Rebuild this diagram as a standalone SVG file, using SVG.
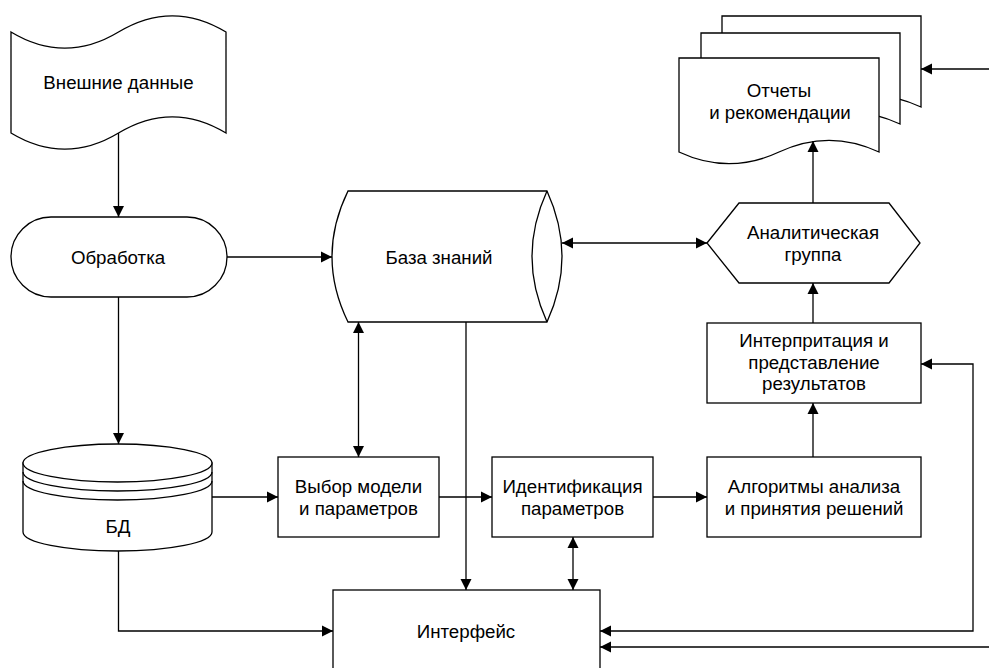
<svg xmlns="http://www.w3.org/2000/svg" width="989" height="668" viewBox="0 0 989 668">
<style>
.s{fill:#fff;stroke:#000;stroke-width:1.3}
.l{fill:none;stroke:#000;stroke-width:1.3}
.c{fill:none;stroke:#000;stroke-width:1.3;marker-end:url(#ah)}
.b{fill:none;stroke:#000;stroke-width:1.3;marker-start:url(#ah);marker-end:url(#ah)}
text{font-family:"Liberation Sans",Arial,sans-serif;font-size:18.7px;fill:#000;text-anchor:middle}
</style>
<defs>
<marker id="ah" viewBox="0 0 12 12" refX="11" refY="6" markerWidth="12" markerHeight="12" markerUnits="userSpaceOnUse" orient="auto-start-reverse">
<path d="M0,0.5 L11,6 L0,11.5 Z" fill="#000"/>
</marker>
</defs>
<rect width="989" height="668" fill="#fff"/>
<g id="ext-data">
<path class="s" d="M11,32 Q64.75,64.4 118.5,32 Q172.25,-0.4 226,32 L226,133 Q172.25,100.6 118.5,133 Q64.75,165.4 11,133 Z"/>
<text x="118.5" y="88.5">Внешние данные</text>
</g>
<g id="processing">
<rect class="s" x="11" y="217" width="216" height="80" rx="40" ry="40"/>
<text x="118" y="263.5">Обработка</text>
</g>
<g id="knowledge-base">
<path class="s" d="M348,191 H547 Q577,256.5 547,322 H348 Q316,256.5 348,191 Z"/>
<path class="l" d="M547,191 Q517,256.5 547,322"/>
<text x="439" y="263.5">База знаний</text>
</g>
<g id="reports">
<path class="s" d="M722,16 H921 V107 Q871,83.6 821.5,107 Q771.5,130.4 722,107 Z"/>
<path class="s" d="M701,33 H900 V124 Q850,100.6 800.5,124 Q750.5,147.4 701,124 Z"/>
<path class="s" d="M679,58 H879 V152 Q829,128.6 779,152 Q729,175.4 679,152 Z"/>
<text x="779" y="97">Отчеты</text>
<text x="780" y="118.5">и рекомендации</text>
</g>
<g id="analytic-group">
<polygon class="s" points="707,243 739,203 889,203 920,243 889,283 739,283"/>
<text x="813" y="239">Аналитическая</text>
<text x="813" y="260.5">группа</text>
</g>
<g id="interpretation">
<rect class="s" x="707" y="323" width="214" height="80"/>
<text x="814" y="347">Интерпритация и</text>
<text x="814" y="368.5">представление</text>
<text x="814" y="390">результатов</text>
</g>
<g id="db">
<path class="s" d="M23,463 V532 A94.5,19 0 0 0 212,532 V463 Z"/>
<ellipse class="s" cx="117.5" cy="463" rx="94.5" ry="19"/>
<path class="l" d="M23,472 A94.5,19 0 0 0 212,472"/>
<path class="l" d="M23,481 A94.5,19 0 0 0 212,481"/>
<text x="118" y="533">БД</text>
</g>
<g id="model-select">
<rect class="s" x="278" y="457" width="161" height="80"/>
<text x="358.5" y="493">Выбор модели</text>
<text x="358.5" y="514.5">и параметров</text>
</g>
<g id="identification">
<rect class="s" x="492" y="457" width="161" height="80"/>
<text x="572.5" y="493">Идентификация</text>
<text x="572.5" y="514.5">параметров</text>
</g>
<g id="algorithms">
<rect class="s" x="707" y="457" width="214" height="80"/>
<text x="814" y="493">Алгоритмы анализа</text>
<text x="814" y="514.5">и принятия решений</text>
</g>
<g id="interface">
<rect class="s" x="333" y="590" width="267" height="100"/>
<text x="466" y="638">Интерфейс</text>
</g>
<g id="connectors">
<path class="c" d="M118.5,133 V217"/>
<path class="c" d="M118.5,297 V444"/>
<path class="c" d="M227,257 H332"/>
<path class="b" d="M358.5,322 V457"/>
<path class="c" d="M466,322 V590"/>
<path class="c" d="M212,497 H278"/>
<path class="c" d="M439,497 H492"/>
<path class="c" d="M653,497 H707"/>
<path class="b" d="M573,537 V590"/>
<path class="c" d="M813,457 V403"/>
<path class="c" d="M813,323 V283"/>
<path class="c" d="M813,203 V141"/>
<path class="b" d="M562,243 H707"/>
<path class="c" d="M989,69 H921"/>
<path class="b" d="M921,364 H973 V631 H600"/>
<path class="c" d="M989,647 H600"/>
<path class="c" d="M118.5,551 V631 H333"/>
</g>
</svg>
